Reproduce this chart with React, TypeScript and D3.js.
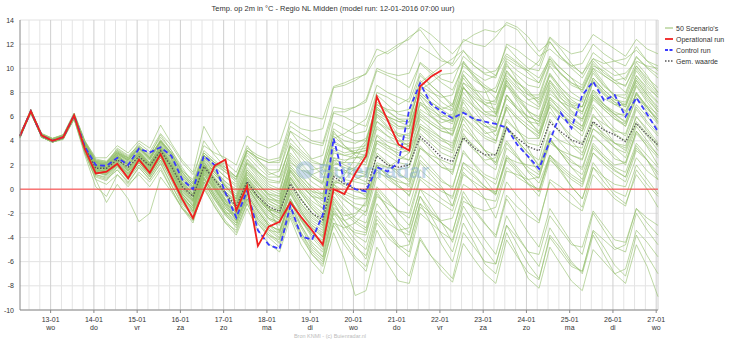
import React from "react";
import * as d3 from "d3";

const W = 732;
const H = 341;

const dayLabels = ["13-01","14-01","15-01","16-01","17-01","18-01","19-01","20-01","21-01","22-01","23-01","24-01","25-01","26-01","27-01"];
const weekdayLabels = ["wo","do","vr","za","zo","ma","di","wo","do","vr","za","zo","ma","di","wo"];
const yTicks = [-10,-8,-6,-4,-2,0,2,4,6,8,10,12,14];
const legendLabels = ["50 Scenario's","Operational run","Control run","Gem. waarde"];

// values every 6 hours, starting 12-01 07:00
const operational = [4.4,6.45,4.45,4.0,4.3,6.1,3.3,1.3,1.45,2.1,0.9,2.45,1.35,2.9,1.0,-0.8,-2.4,-0.1,1.95,2.45,-1.75,0.25,-4.7,-3.1,-2.7,-1.1,-2.3,-3.4,-4.6,0.0,-0.4,1.3,2.75,7.65,5.7,3.7,3.2,8.5,9.3,9.85];
const control = [4.4,6.45,4.45,4.0,4.3,6.1,3.5,2.0,1.93,2.6,2.0,3.35,3.03,3.47,2.75,0.8,0.0,2.75,2.0,-0.3,-2.35,-0.15,-3.4,-4.6,-4.96,-1.38,-3.9,-4.19,-2.12,4.2,0.63,0.0,-0.19,1.82,1.46,2.2,6.6,8.76,7.05,6.41,5.87,6.33,5.81,5.59,5.4,5.09,3.66,2.7,1.68,3.99,6.33,5.04,7.79,8.9,7.36,7.79,6.0,7.57,6.2,4.76];
const meanRun = [4.4,6.4,4.4,4.0,4.3,6.1,3.5,1.73,1.73,2.42,1.82,2.7,1.93,3.19,1.87,0.22,-0.61,1.87,0.77,-0.33,-1.44,0.63,-0.61,-1.44,-1.85,0.44,-0.88,-1.98,-2.54,1.04,0.44,0.0,-0.06,2.75,2.0,1.82,2.0,4.35,3.52,2.6,2.28,4.26,3.39,2.83,2.83,5.09,4.21,3.52,3.17,5.54,4.76,4.07,3.72,5.59,4.9,4.49,3.93,5.45,4.49,3.66];

const scenarios = [
  [4.3,6.5,4.4,4.1, 4.4,6.2,3.4,1.5, 1.6,2.2,1.2,2.6, 1.5,3.0,1.0,-0.5, -1.8,1.5,1.8,2.2, -1.2,0.5,-0.2,-1.5, -3.5,-1.0,-2.5,-3.8, -4.2,0.5,1.2,2.5, 3.8,7.2,6.5,5.8, 5.5,8.8,9.5,10.2, 10.8,11.5,10.2,9.6, 9.8,11.2,10.5,9.8, 9.2,10.8,9.5,8.8, 8.2,10.2,9.8,9.0, 8.5,10.5,9.4,8.0],
  [4.5,6.3,4.3,3.9, 4.2,6.0,3.8,2.1, 1.9,2.8,2.0,3.1, 2.2,3.6,2.5,0.8, -0.2,2.4,0.2,-1.2, -2.6,-0.8,-2.5,-3.4, -4.1,-1.6,-3.6,-5.2, -6.0,-2.8,-3.9,-4.8, -5.5,-2.2,-3.4,-4.6, -5.2,-1.5,-2.2,-2.8, -3.5,-0.6,-1.8,-2.9, -3.8,-0.5,-1.5,-2.2, -2.8,0.8,0.2,-0.5, -1.5,1.8,1.0,0.4, 0.2,2.6,1.5,0.8],
  [4.4,6.4,4.5,4.0, 4.3,6.0,3.7,2.0, 1.8,2.6,2.2,3.0, 2.0,3.3,2.1,0.5, -0.4,2.0,1.2,0.3, -0.8,1.4,0.4,-0.5, -1.2,1.5,0.2,-0.6, -1.3,2.2,1.8,1.5, 1.2,4.5,3.9,3.6, 3.8,6.2,5.4,4.8, 4.5,6.8,5.9,5.2, 5.1,7.5,6.6,6.0, 5.6,7.9,7.2,6.8, 6.4,8.2,7.5,7.0, 6.5,7.8,6.9,6.2],
  [4.3,6.6,4.3,4.0, 4.2,5.9,3.2,1.2, 0.9,1.6,0.5,1.8, 0.8,2.1,0.3,-1.2, -2.3,0.6,-0.8,-2.1, -3.2,-1.2,-2.9,-3.8, -4.5,-2.2,-4.0,-5.4, -6.2,-3.0,-4.6,-5.8, -6.8,-3.4,-5.2,-6.3, -7.2,-4.0,-5.5,-6.8, -7.7,-4.5,-5.8,-7.0, -7.8,-4.2,-5.6,-6.9, -7.5,-3.8,-4.9,-6.2, -6.8,-3.5,-4.8,-6.3, -7.2,-3.8,-5.5,-7.0],
  [4.6,6.5,4.6,4.2, 4.5,6.3,4.0,2.5, 2.3,3.2,2.6,3.5, 2.7,4.0,3.0,1.5, 0.8,4.0,2.8,1.8, 1.0,3.0,2.2,1.2, 1.5,4.8,3.6,2.5, 2.8,6.3,6.0,5.5, 5.2,8.0,7.6,7.0, 7.5,10.5,9.8,9.1, 8.8,11.0,10.2,9.5, 9.2,12.0,11.5,10.8, 10.2,12.5,11.6,10.4, 9.5,11.3,10.6,9.8, 9.0,10.9,10.1,9.5],
  [4.2,6.3,4.4,3.9, 4.1,5.8,3.0,1.0, 0.7,1.9,1.1,2.2, 1.1,2.8,1.2,-0.8, -1.5,1.2,0.0,-1.2, -2.0,0.2,-1.1,-2.2, -2.8,-0.3,-1.8,-3.0, -3.8,-0.2,-0.9,-1.5, -1.9,1.6,0.8,0.2, -0.5,2.4,1.5,0.6, 0.2,3.0,2.1,1.2, 0.8,3.8,2.6,1.5, 0.9,4.1,3.0,2.2, 1.8,4.5,3.6,2.5, 2.2,4.8,3.5,2.0],
  [4.4,6.5,4.5,4.1, 4.4,6.1,3.9,2.3, 2.1,3.4,2.8,3.6, 2.8,4.5,3.2,1.8, 0.5,2.8,1.6,0.2, -0.6,2.1,1.0,0.0, -0.4,3.5,2.2,1.0, 0.5,4.8,3.6,2.8, 2.2,6.0,5.1,4.2, 3.5,7.2,6.0,5.2, 4.8,8.5,7.0,6.1, 5.5,9.0,7.8,6.5, 5.8,8.6,7.5,6.9, 6.2,8.9,7.9,7.2, 6.8,9.2,8.0,7.1],
  [4.5,6.4,4.4,4.0, 4.3,6.0,3.5,1.7, 1.4,2.3,1.5,2.5, 1.6,2.9,1.5,-0.2, -1.0,1.6,0.2,-1.0, -2.4,-0.2,-1.6,-2.8, -3.6,-0.8,-2.6,-4.0, -5.0,-1.5,-2.2,-2.0, -1.2,2.0,1.8,2.4, 3.0,5.2,4.6,4.0, 3.6,5.8,4.5,3.2, 2.0,4.0,2.8,1.4, 0.5,2.8,1.6,0.2, -0.8,1.8,0.6,-0.5, -1.2,1.2,0.0,-1.5],
  [4.4,6.4,4.4,4.0, 4.3,6.1,3.3,1.3, 1.4,2.0,0.9,2.4, 1.4,2.9,1.1,-0.9, -2.5,-0.2,1.8,2.4, -1.9,0.2,-0.6,-1.8, -2.6,-1.0,-2.0,-3.0, -3.6,0.4,0.8,1.8, 3.0,6.8,5.8,4.4, 4.2,8.2,8.8,9.5, 9.6,10.5,9.2,8.4, 7.5,9.6,8.8,8.2, 7.0,9.0,7.6,6.5, 5.8,7.8,6.8,6.0, 5.2,7.5,6.8,5.5],
  [4.3,6.3,4.3,3.9, 4.2,6.0,3.6,2.0, 1.8,2.7,2.1,3.0, 2.0,3.4,2.0,0.2, -0.9,1.8,0.6,-0.4, -1.6,0.8,-0.3,-1.2, -1.8,0.9,-0.2,-1.2, -2.0,1.6,1.5,1.8, 2.5,5.2,4.4,3.5, 3.0,5.8,5.0,4.2, 3.8,6.5,5.6,4.8, 4.0,7.0,6.0,5.3, 4.6,7.4,6.6,5.8, 5.2,7.6,6.8,6.2, 5.5,7.9,6.6,5.8],
  [4.5,6.6,4.5,4.1, 4.4,6.2,3.6,1.9, 1.7,2.5,1.6,2.6, 1.8,3.1,1.6,-0.3, -1.2,1.5,0.1,-1.4, -2.6,-0.6,-2.0,-3.2, -4.0,-1.4,-3.0,-4.4, -5.2,-2.0,-3.4,-4.6, -5.8,-2.5,-3.6,-4.8, -5.6,-2.0,-2.8,-3.6, -4.2,-1.0,-1.5,-1.8, -1.5,1.5,1.2,0.8, 1.0,3.8,3.2,2.8, 2.5,5.0,4.4,3.8, 3.2,5.6,4.6,3.5],
  [4.4,6.4,4.6,4.2, 4.5,6.2,3.9,2.4, 2.2,3.0,2.4,3.3, 2.4,3.8,2.6,1.0, 0.1,2.6,1.8,1.0, 0.4,2.5,1.5,0.6, 0.5,3.0,2.0,1.2, 1.6,4.6,4.0,3.8, 4.2,7.0,6.4,5.8, 5.8,8.5,7.6,6.8, 6.5,9.2,8.0,7.2, 7.0,9.8,8.6,7.4, 6.8,9.5,8.4,7.6, 7.2,9.6,8.5,7.8, 7.5,9.8,8.6,7.6],
  [4.3,6.4,4.3,4.0, 4.3,6.0,3.4,1.6, 1.5,2.4,1.7,2.8, 1.9,3.2,1.8,0.0, -0.8,1.9,0.5,-0.8, -1.8,0.5,-0.8,-1.8, -2.4,0.0,-1.4,-2.6, -3.2,0.2,-0.4,-0.8, -0.8,2.0,1.0,0.2, -0.2,2.8,1.8,0.8, 0.0,3.2,2.0,0.8, -0.4,2.6,1.6,0.4, -0.6,2.4,1.6,0.8, 0.2,3.0,2.0,1.2, 0.6,3.2,2.4,1.4],
  [4.5,6.5,4.5,4.1, 4.4,6.2,3.8,2.2, 2.0,3.0,2.6,3.8, 3.1,4.6,3.6,2.2, 1.2,3.6,3.0,2.6, 2.0,4.4,3.8,3.4, 3.8,6.5,6.2,6.0, 5.8,8.5,8.8,9.2, 9.5,11.0,11.4,12.0, 12.4,13.4,12.8,12.0, 11.2,12.2,12.8,13.2, 13.0,13.6,13.2,12.0, 11.0,11.6,10.8,10.2, 9.6,10.8,10.4,10.6, 10.8,11.5,10.6,10.2],
  [4.4,6.3,4.4,3.9, 4.2,5.9,3.4,1.5, 1.2,2.1,1.3,2.3, 1.3,2.7,1.1,-0.6, -1.6,1.2,-0.2,-1.6, -2.4,0.0,-1.4,-2.5, -3.0,-0.4,-2.0,-3.2, -3.9,-0.6,-1.8,-2.6, -3.2,0.0,-1.0,-1.8, -2.4,0.8,0.0,-0.8, -1.4,1.8,1.0,0.2, -0.5,2.4,1.4,0.5, -0.2,2.8,1.8,1.0, 0.4,3.0,2.2,1.5, 1.0,3.4,2.4,1.2],
  [4.4,6.5,4.4,4.0, 4.4,6.1,3.6,2.0, 1.9,2.9,2.3,3.1, 2.1,3.6,2.4,0.6, -0.3,2.5,1.4,0.2, -0.8,1.6,0.5,-0.6, -1.0,2.4,1.2,0.0, -0.6,3.2,2.8,2.6, 2.8,6.2,5.2,4.4, 4.6,7.6,6.2,5.2, 4.4,7.2,5.8,4.6, 4.8,7.8,6.6,5.6, 5.4,8.4,7.2,6.2, 5.8,8.2,7.0,6.4, 6.0,8.5,7.2,6.0],
  [4.4,6.4,4.3,3.9, 4.2,5.8,3.0,0.8, 0.4,1.2,0.2,1.4, 0.6,1.8,0.0,-1.6, -2.8,0.2,-1.5,-2.8, -3.8,-1.6,-3.4,-4.5, -5.2,-2.4,-4.6,-6.0, -7.0,-3.6,-5.8,-8.8, -8.4,-4.8,-6.2,-7.6, -7.8,-4.2,-5.5,-6.4, -7.4,-3.6,-4.8,-6.0, -6.2,-3.0,-4.0,-5.2, -5.4,-2.2,-3.4,-4.6, -4.8,-1.8,-3.0,-4.2, -4.4,-1.6,-2.8,-3.8],
  [4.3,6.4,4.5,4.1, 4.3,6.1,3.7,2.1, 2.0,2.8,2.0,2.9, 2.2,3.5,2.3,0.8, -0.5,2.2,1.4,0.6, -0.2,2.2,1.4,0.8, 0.6,3.8,3.0,2.2, 2.0,5.5,5.0,4.6, 4.8,7.8,7.0,6.2, 6.0,9.0,8.2,7.2, 6.6,9.5,8.2,7.0, 6.2,8.8,7.4,6.4, 6.0,8.8,7.8,7.0, 6.8,9.2,8.2,7.4, 7.0,9.0,7.8,6.8],
  [4.5,6.5,4.4,4.0, 4.3,6.0,3.5,1.8, 1.6,2.5,1.6,2.6, 1.7,3.0,1.4,-0.4, -1.4,1.4,0.0,-1.3, -2.2,0.2,-1.0,-2.0, -2.6,0.4,-1.2,-2.2, -3.0,0.6,0.4,0.8, 1.2,4.0,3.6,3.2, 3.6,6.6,6.0,5.5, 5.8,8.4,7.6,7.0, 7.4,10.2,9.4,8.6, 8.4,10.8,10.0,9.2, 8.0,10.0,8.8,7.6, 6.8,9.0,7.8,6.6],
  [4.4,6.3,4.4,4.0, 4.2,6.0,3.4,1.7, 1.5,2.3,1.5,2.5, 1.6,3.0,1.6,-0.1, -1.0,1.7,0.4,-0.9, -1.9,0.6,-0.6,-1.6, -2.2,1.0,-0.4,-1.6, -2.4,1.4,0.6,0.0, -0.6,3.0,2.2,1.4, 0.6,4.2,3.2,2.2, 1.2,4.6,3.4,2.2, 1.6,5.2,4.0,3.0, 2.4,5.8,4.6,3.6, 2.8,5.6,4.4,3.4, 2.6,5.2,4.0,2.8],
  [4.4,6.4,4.4,4.0, 4.3,6.0,3.3,1.4, 1.1,1.9,1.0,2.0, 1.0,2.4,0.8,-1.0, -2.0,0.8,-0.6,-1.8, -2.8,-0.5,-1.8,-3.0, -3.4,-0.8,-2.4,-3.6, -4.6,-1.0,-2.6,-3.8, -4.4,-1.2,-2.4,-3.4, -3.8,-0.6,-1.8,-2.8, -3.6,-0.2,-1.6,-2.8, -4.0,-0.8,-2.2,-3.6, -4.8,-1.6,-3.0,-4.4, -5.4,-2.0,-3.4,-4.8, -5.2,-2.0,-3.4,-4.6],
  [4.4,6.4,4.4,4.0, 4.3,6.1,3.5,1.9, 1.7,2.6,2.0,2.9, 1.9,3.3,2.0,0.3, -0.7,2.0,0.8,-0.2, -1.2,1.0,0.0,-0.9, -1.5,1.4,0.4,-0.6, -1.6,2.0,2.2,3.0, 4.0,7.0,6.6,6.4, 6.6,9.4,8.6,7.8, 6.8,10.6,9.4,8.2, 6.2,9.0,7.6,6.4, 5.2,7.6,6.4,5.4, 4.8,7.0,6.0,5.0, 4.4,6.8,5.6,4.6],
  [4.3,6.4,4.5,4.1, 4.4,6.1,3.8,2.2, 2.0,2.9,2.3,3.2, 2.2,3.7,2.5,0.9, -0.1,2.4,1.4,0.4, -0.4,1.8,0.8,-0.2, -0.6,2.0,1.0,0.2, -0.4,2.6,2.0,1.6, 1.4,4.4,3.6,2.8, 2.4,5.2,4.4,3.6, 3.2,6.0,5.2,4.4, 4.0,6.8,5.8,5.0, 4.4,7.2,6.2,5.4, 4.8,7.4,6.6,5.8, 5.2,7.6,6.4,5.4],
  [4.4,6.5,4.4,4.0, 4.3,6.0,3.4,1.6, 1.4,2.2,1.3,2.4, 1.4,2.8,1.2,-0.6, -1.6,1.0,-0.4,-1.6, -2.2,0.2,-1.2,-2.4, -2.8,0.0,-1.6,-2.8, -3.4,-0.2,-1.4,-2.4, -2.8,0.2,-0.8,-2.0, -3.0,0.0,-1.4,-2.8, -4.4,-1.4,-2.8,-4.2, -5.4,-2.2,-3.8,-5.2, -6.4,-3.2,-4.6,-6.0, -7.0,-3.8,-5.4,-7.0, -7.8,-4.6,-6.4,-8.9],
  [4.5,6.4,4.5,4.1, 4.4,6.2,3.8,2.3, 2.2,3.2,2.6,3.5, 2.6,4.0,2.9,1.4, 0.4,3.0,2.2,1.4, 0.6,2.8,1.8,1.0, 1.0,3.6,2.8,2.0, 1.2,4.0,3.4,3.0, 3.2,6.4,5.8,5.2, 5.2,8.0,7.2,6.6, 7.0,9.8,9.0,8.4, 8.0,10.4,9.0,7.8, 7.2,9.4,8.2,7.0, 6.4,8.8,7.8,7.0, 7.0,9.4,8.4,7.6],
  [4.4,6.3,4.3,3.9, 4.2,5.9,3.3,1.4, 1.2,2.0,1.2,2.2, 1.2,2.6,1.0,-0.8, -1.8,1.0,-0.4,-1.8, -2.6,-0.4,-1.8,-3.0, -3.8,-1.0,-3.0,-4.6, -5.6,-2.0,-2.6,-2.2, -1.0,2.2,1.8,1.6, 1.8,4.6,3.8,3.0, 2.6,5.4,4.2,3.2, 2.8,5.8,4.8,3.8, 3.6,6.4,5.4,4.4, 3.8,6.2,5.0,3.8, 3.4,6.0,4.8,3.6],
  [4.4,6.4,4.4,4.0, 4.3,6.1,3.6,1.9, 1.7,2.6,1.9,2.8, 1.8,3.2,1.8,0.1, -0.9,1.8,0.6,-0.6, -1.6,0.8,-0.4,-1.4, -2.0,0.6,-0.8,-2.0, -2.8,0.8,0.2,-0.2, -0.4,2.8,2.0,1.2, 0.8,3.6,2.6,1.8, 1.4,4.2,3.2,2.4, 2.6,5.6,4.8,4.2, 4.2,7.0,6.2,5.6, 5.0,7.6,6.6,5.8, 5.4,8.0,6.8,5.6],
  [4.3,6.4,4.3,3.9, 4.2,5.9,3.1,1.1, 0.8,1.6,0.6,1.8, 0.8,2.2,0.4,-1.4, -2.6,0.4,-1.2,-2.6, -3.6,-1.2,-2.8,-4.0, -4.8,-2.0,-3.8,-5.4, -6.4,-2.8,-3.2,-2.8, -1.8,1.4,1.0,0.6, 0.4,3.4,2.6,1.8, 1.6,4.4,3.6,2.8, 2.2,5.0,4.0,3.0, 2.0,4.8,3.8,2.8, 2.4,5.0,4.2,3.4, 3.0,5.4,4.4,3.2],
  [4.4,6.4,4.5,4.1, 4.4,6.1,3.8,2.2, 2.1,3.0,2.4,3.3, 2.4,3.9,2.8,1.2, 0.2,2.8,1.9,1.0, 0.2,2.4,1.4,0.4, 0.0,2.8,1.8,1.0, 0.4,3.8,3.4,3.4, 3.6,6.6,6.0,5.6, 5.6,8.6,8.0,7.6, 7.8,10.4,9.6,9.0, 9.4,11.8,10.8,10.0, 9.8,12.2,11.0,10.2, 10.4,12.0,11.2,10.6, 10.2,11.8,10.6,9.8],
  [4.4,6.4,4.4,4.0, 4.3,6.0,3.6,2.0, 1.8,2.7,2.0,2.9, 2.0,3.3,2.0,0.4, -0.6,2.0,0.9,-0.2, -1.0,1.2,0.2,-0.8, -1.2,1.6,0.6,-0.4, -1.0,2.4,2.2,2.2, 2.0,5.0,4.4,4.0, 4.0,7.0,6.4,5.8, 5.4,8.0,6.8,5.6, 5.0,7.8,6.6,5.6, 4.8,7.6,6.8,6.0, 5.2,7.8,7.0,6.2, 5.6,8.0,6.8,5.8],
  [4.5,6.5,4.4,4.0, 4.3,6.0,3.4,1.5, 1.3,2.2,1.4,2.4, 1.5,2.8,1.2,-0.6, -1.8,0.9,-0.6,-2.0, -3.0,-0.8,-2.4,-3.6, -4.4,-1.8,-3.6,-5.0, -5.8,-2.4,-4.2,-5.6, -6.4,-2.8,-4.0,-4.8, -4.6,-1.2,-2.0,-2.6, -2.4,0.4,-0.2,-0.8, -1.0,1.8,1.0,0.4, 0.0,2.8,2.0,1.2, 0.6,3.4,2.6,1.8, 1.4,3.8,2.8,1.8],
  [4.3,6.5,4.5,4.1, 4.4,6.2,3.9,2.4, 2.3,3.3,2.7,3.6, 2.9,4.3,3.2,1.6, 0.6,3.2,2.4,1.6, 0.8,3.2,2.4,1.6, 1.6,4.2,3.2,2.4, 2.0,5.0,4.4,4.0, 4.0,6.8,6.0,5.2, 5.0,7.8,6.8,5.8, 5.6,8.4,7.4,6.4, 6.4,9.2,8.2,7.4, 7.6,10.2,9.0,8.0, 7.4,9.8,8.6,7.8, 7.8,10.0,8.8,7.8],
  [4.4,6.4,4.4,4.0, 4.2,6.0,3.5,1.7, 1.5,2.4,1.6,2.7, 1.7,3.1,1.6,-0.2, -1.1,1.6,0.3,-1.0, -2.0,0.4,-0.8,-1.8, -2.4,0.2,-1.2,-2.4, -3.0,0.0,-0.8,-1.6, -2.2,1.0,0.2,-0.6, -1.4,1.6,0.8,0.0, -0.8,2.2,1.2,0.2, -0.4,2.8,1.8,0.8, -0.2,2.6,1.4,0.2, -0.8,2.2,1.0,-0.2, -0.6,2.0,0.8,-0.4],
  [4.4,6.5,4.5,4.0, 4.4,6.1,3.7,2.1, 1.9,2.9,2.4,3.4, 2.6,4.0,3.0,1.4, 0.2,2.8,2.2,1.8, 1.0,3.4,2.8,2.4, 2.6,5.6,5.0,4.8, 5.0,8.4,8.6,9.0, 9.6,11.6,11.2,11.8, 12.6,13.2,12.0,10.8, 10.2,11.4,10.6,10.0, 9.4,11.0,10.4,9.6, 8.8,10.6,9.6,8.6, 8.2,10.0,9.4,8.8, 8.6,10.2,9.2,8.4],
  [4.4,6.4,4.4,4.0, 4.3,6.1,3.6,1.9, 1.7,2.6,2.0,2.9, 1.9,3.3,2.0,0.4, -0.6,2.0,0.8,-0.4, -1.2,1.0,-0.2,-1.0, -1.4,1.2,0.0,-1.0, -1.6,1.8,1.4,1.2, 1.0,4.0,3.4,3.0, 3.2,6.0,5.4,4.8, 4.6,7.4,6.4,5.4, 4.4,6.6,5.0,3.4, 1.8,4.2,3.0,1.8, 1.2,3.8,2.8,2.0, 2.2,4.8,3.8,2.8],
  [4.3,6.4,4.4,3.9, 4.2,5.9,3.3,1.4, 1.2,2.0,1.1,2.2, 1.2,2.6,1.0,-0.9, -1.9,0.9,-0.6,-2.0, -2.8,-0.4,-1.8,-3.0, -3.4,-0.8,-2.4,-3.6, -4.4,-1.2,-2.6,-3.4, -3.6,-0.4,-1.6,-2.8, -3.6,-0.6,-2.2,-3.8, -5.2,-2.0,-3.6,-5.0, -6.2,-3.0,-4.6,-6.2, -7.4,-4.0,-5.2,-6.4, -6.8,-3.4,-4.2,-5.0, -4.6,-1.6,-2.4,-3.0],
  [4.5,6.5,4.5,4.1, 4.4,6.1,3.8,2.2, 2.1,3.1,2.5,3.4, 2.5,3.9,2.7,1.1, 0.0,2.6,1.6,0.6, 0.0,2.2,1.2,0.2, -0.2,2.6,1.6,0.6, 0.0,3.4,3.0,3.2, 3.4,6.6,6.0,5.6, 5.2,8.0,7.2,6.6, 6.0,8.8,7.8,7.0, 6.6,9.4,8.4,7.8, 7.8,10.4,9.6,8.8, 8.4,10.4,9.4,8.8, 8.0,10.2,9.0,8.0],
  [4.4,6.4,4.3,3.9, 4.2,5.9,3.2,1.2, 1.0,1.8,0.8,2.0, 1.0,2.4,0.7,-1.1, -2.2,0.6,-0.9,-2.2, -3.0,-0.8,-2.2,-3.4, -3.6,-1.0,-2.6,-3.8, -4.8,-1.6,-3.0,-4.2, -5.0,-1.8,-2.8,-3.4, -3.2,0.0,-0.6,-1.2, -1.8,1.2,0.6,0.0, -0.2,2.6,2.2,2.0, 1.8,4.6,4.0,3.6, 3.4,6.0,5.4,4.8, 4.6,7.0,6.0,5.0],
  [4.4,6.4,4.4,4.0, 4.3,6.0,3.5,1.8, 1.6,2.5,1.8,2.8, 1.8,3.2,1.8,0.2, -0.8,1.9,0.7,-0.5, -1.4,0.9,-0.2,-1.2, -1.6,1.0,-0.2,-1.4, -2.2,1.2,0.8,0.6, 0.4,3.4,2.8,2.2, 2.0,5.0,4.2,3.4, 3.0,6.0,5.0,4.2, 3.8,6.8,5.8,5.0, 4.2,7.0,6.0,5.2, 4.4,6.8,5.6,4.6, 4.0,6.6,5.4,4.4],
  [4.4,6.5,4.4,4.0, 4.3,6.1,3.6,2.0, 1.8,2.8,2.2,3.1, 2.1,3.5,2.2,0.6, -0.4,2.2,1.2,0.2, -0.6,1.6,0.6,-0.4, -0.8,1.8,0.8,-0.2, -0.8,2.6,2.4,2.6, 2.6,5.6,5.0,4.6, 4.4,7.2,6.6,6.0, 6.2,8.8,8.2,8.0, 8.4,10.8,10.2,9.8, 10.6,12.6,11.8,11.2, 11.4,12.8,12.2,11.6, 11.0,12.4,11.6,11.2],
  [4.4,6.4,4.4,4.0, 4.3,6.0,3.0,0.8, -1.1,0.4,-0.8,-2.7, -2.0,1.0,-0.2,-1.6, -2.6,0.0,-1.4,-2.8, -3.4,-1.0,-2.6,-3.8, -4.2,-1.4,-3.2,-4.8, -5.6,-1.8,-3.0,-3.6, -3.8,-0.6,-1.2,-1.8, -2.0,1.0,0.4,-0.2, -0.6,2.2,1.6,1.0, 0.4,3.4,2.6,1.8, 1.2,4.0,3.2,2.4, 1.6,4.4,3.6,2.8, 2.0,4.6,3.6,2.6],
  [4.3,6.3,4.3,3.9, 4.2,5.8,2.8,0.2, -0.6,1.2,0.4,1.2, 0.2,1.6,0.0,-1.6, -2.4,0.6,-0.8,-2.0, -2.0,0.4,-0.8,-1.8, -1.6,1.6,0.4,-0.6, -0.8,2.4,1.6,1.0, 0.6,3.8,3.2,2.6, 2.4,5.4,4.8,4.2, 3.4,6.6,5.8,5.2, 4.8,7.8,6.8,6.0, 5.6,8.2,7.2,6.4, 5.6,8.0,7.0,6.2, 6.2,8.6,7.4,6.4],
  [4.5,6.6,4.6,4.2, 4.5,6.3,4.0,2.6, 2.6,3.6,3.0,4.0, 3.4,5.3,3.8,2.4, 1.4,5.2,3.6,2.2, 1.4,3.6,2.4,1.4, 1.0,3.6,2.6,1.6, 1.8,4.4,3.6,3.0, 2.8,5.6,4.8,4.0, 3.6,6.4,5.6,5.0, 5.0,7.6,6.8,6.2, 6.0,8.6,7.6,7.0, 6.6,9.0,8.0,7.2, 6.8,9.2,8.2,7.4, 7.2,9.4,8.2,7.2],
  [4.4,6.4,4.5,4.1, 4.4,6.2,3.9,2.3, 2.2,3.1,2.5,3.4, 2.5,4.0,2.8,1.2, 0.2,2.8,2.0,1.4, 0.8,3.2,2.6,2.2, 2.4,5.2,4.6,4.0, 3.8,6.8,6.6,6.8, 7.2,9.8,9.4,9.0, 8.4,10.4,9.6,8.8, 8.2,10.2,9.4,8.6, 8.0,10.6,9.8,9.2, 8.8,11.0,10.0,9.2, 8.6,10.6,9.6,9.0, 9.2,11.0,10.0,9.2],
  [4.4,6.4,4.4,4.0, 4.3,6.0,3.4,1.6, 1.4,2.3,1.5,2.5, 1.5,2.9,1.4,-0.4, -1.4,1.3,-0.1,-1.4, -2.2,0.2,-1.2,-2.4, -2.8,-0.2,-1.8,-3.2, -4.0,-0.8,-2.0,-2.8, -3.4,-0.2,-1.6,-3.0, -4.4,-1.2,-2.8,-4.6, -6.0,-2.8,-4.4,-6.2, -7.0,-3.6,-5.4,-7.4, -8.2,-4.8,-6.2,-7.6, -8.4,-5.0,-6.0,-7.0, -6.6,-3.4,-4.4,-5.6],
  [4.3,6.4,4.4,4.0, 4.2,5.9,3.3,1.5, 1.3,2.1,1.3,2.4, 1.5,2.9,1.4,-0.4, -1.3,1.4,0.1,-1.2, -1.8,0.6,-0.6,-1.6, -2.0,0.8,-0.4,-1.6, -2.6,0.4,-0.6,-1.2, -1.4,1.8,1.2,0.8, 0.2,3.4,2.8,2.4, 2.0,5.0,4.2,3.2, 2.2,5.2,4.0,2.6, 1.4,4.2,3.0,1.8, 0.8,3.6,2.6,1.6, 1.0,3.6,2.4,0.8],
  [4.4,6.4,4.4,4.0, 4.3,6.1,3.7,2.0, 1.8,2.8,2.1,3.0, 2.0,3.4,2.2,0.5, -0.5,2.1,1.0,0.0, -0.8,1.4,0.4,-0.4, -0.6,2.2,1.6,1.2, 0.6,4.2,4.6,5.2, 5.8,8.6,8.0,7.6, 7.2,9.6,8.6,7.8, 7.0,9.4,8.4,7.4, 7.2,9.8,8.8,8.0, 7.4,9.6,8.4,7.4, 6.8,9.0,8.0,7.2, 6.4,8.8,7.6,6.4],
  [4.5,6.5,4.5,4.1, 4.4,6.1,3.5,1.8, 1.6,2.5,1.7,2.7, 1.7,3.1,1.7,0.0, -1.0,1.7,0.4,-0.9, -1.8,0.6,-0.6,-1.6, -2.0,0.6,-0.8,-2.0, -2.8,0.4,-0.2,-0.6, -0.8,2.0,1.2,0.4, -0.6,2.2,1.2,0.2, -1.4,1.4,0.4,-0.8, -2.4,0.6,-0.6,-1.6, -2.6,0.6,-0.4,-1.2, -1.8,1.2,0.2,-0.8, -1.4,1.6,0.4,-0.6],
  [4.4,6.5,4.5,4.1, 4.4,6.2,3.8,2.2, 2.0,3.0,2.4,3.4, 2.6,4.1,3.0,1.4, 0.4,3.0,2.2,1.6, 1.0,3.2,2.6,2.2, 2.2,4.8,4.2,3.8, 3.6,6.4,6.4,6.8, 7.4,10.0,9.6,9.4, 9.6,11.8,11.2,10.6, 10.4,12.4,12.0,11.8, 12.6,13.8,13.4,12.6, 11.4,12.2,11.0,10.0, 9.2,10.8,10.0,9.4, 9.6,10.6,10.2,10.0],
  [4.4,6.4,4.4,4.0, 4.3,6.1,3.6,1.9, 1.8,2.7,2.0,2.9, 2.0,3.4,2.1,0.4, -0.6,2.0,0.9,-0.2, -1.0,1.2,0.2,-0.8, -1.0,1.8,0.8,-0.2, -0.4,3.0,2.8,3.0, 3.2,6.2,5.6,5.0, 5.0,7.8,7.0,6.2, 5.6,8.4,7.4,6.4, 6.0,8.6,7.2,5.8, 4.6,6.8,5.4,4.0, 3.0,5.4,4.6,3.8, 3.6,6.0,5.0,3.8]
];

const margin = { left: 20, right: 658, top: 20, bottom: 310 };
const totalHours = 354;
const FONT = "'Liberation Sans', Arial, sans-serif";

export default function App() {
  const x = d3.scaleLinear().domain([0, totalHours]).range([margin.left, margin.right]);
  const y = d3.scaleLinear().domain([-10, 14]).range([margin.bottom, margin.top]);
  const line = d3.line<number>().x((_, i) => x(i * 6)).y((v) => y(v));

  const gridHours: number[] = [];
  for (let h = 5; h <= totalHours; h += 6) gridHours.push(h);
  const dayHour = (d: number) => 17 + 24 * d;
  const isDay = (h: number) => (h - 17) % 24 === 0 && h >= 17;

  const legendY = [28, 39, 50, 61];

  return (
    <svg width={W} height={H} style={{ position: "absolute", left: 0, top: 0, background: "#fff" }} fontFamily={FONT}>
      <rect width={W} height={H} fill="#fff" />
      <text x={333} y={11} fontSize={7.5} textAnchor="middle" fill="#333">
        Temp. op 2m in °C - Regio NL Midden (model run: 12-01-2016 07:00 uur)
      </text>
      {/* grid */}
      {yTicks.map((t) => (
        <line key={"hy" + t} x1={margin.left} x2={margin.right} y1={y(t)} y2={y(t)} stroke="#e2e2e2" strokeWidth={1} />
      ))}
      {gridHours.map((h) => (
        <line key={"vx" + h} x1={x(h)} x2={x(h)} y1={margin.top} y2={margin.bottom} stroke={isDay(h) ? "#cfcfcf" : "#e4e4e4"} strokeWidth={1} />
      ))}
      <line x1={margin.right} x2={margin.right} y1={margin.top} y2={margin.bottom} stroke="#d0d0d0" />
      {/* scenarios */}
      <g fill="none" stroke="#93be6b" strokeOpacity={0.6} strokeWidth={1}>
        {scenarios.map((s, k) => (
          <path key={"s" + k} d={line(s) || ""} />
        ))}
      </g>
      <line x1={margin.left} x2={margin.right} y1={y(0)} y2={y(0)} stroke="#ff3b3b" strokeWidth={1} />
      {/* watermark */}
      <g opacity={0.45}>
        <circle cx={305} cy={170} r={9} fill="#8fb3d6" />
        <path d="M300 170 a5 5 0 0 1 10 0 z" fill="#fff" opacity={0.8} />
        <text x={318} y={178} fontSize={21} fontWeight="bold" fill="#7fa8d2" fontFamily={FONT}>Buienradar</text>
      </g>
      <path d={line(meanRun) || ""} fill="none" stroke="#555" strokeWidth={1.3} strokeDasharray="1.5,1.5" />
      <path d={line(control) || ""} fill="none" stroke="#3a3aff" strokeWidth={1.8} strokeDasharray="5,3" />
      <path d={line(operational) || ""} fill="none" stroke="#f02020" strokeWidth={1.8} />
      {/* axes */}
      <line x1={margin.left} x2={margin.left} y1={margin.top} y2={margin.bottom} stroke="#888" />
      <line x1={margin.left} x2={margin.right} y1={margin.bottom} y2={margin.bottom} stroke="#888" />
      {yTicks.map((t) => (
        <text key={"yl" + t} x={14} y={y(t) + 2.5} fontSize={7} textAnchor="end" fill="#333">{t}</text>
      ))}
      {dayLabels.map((d, i) => (
        <g key={"xl" + d}>
          <line x1={x(dayHour(i))} x2={x(dayHour(i))} y1={margin.bottom} y2={margin.bottom + 3} stroke="#888" />
          <text x={x(dayHour(i))} y={322} fontSize={7} textAnchor="middle" fill="#333">{d}</text>
          <text x={x(dayHour(i))} y={330} fontSize={7} textAnchor="middle" fill="#333">{weekdayLabels[i]}</text>
        </g>
      ))}
      <text x={330} y={338} fontSize={5.5} textAnchor="middle" fill="#bbb">Bron KNMI - (c) Buienradar.nl</text>
      {/* legend */}
      <g fontSize={7} fill="#333">
        <line x1={665} x2={673} y1={legendY[0]} y2={legendY[0]} stroke="#93be6b" strokeWidth={1} />
        <line x1={665} x2={673} y1={legendY[1]} y2={legendY[1]} stroke="#f02020" strokeWidth={1.8} />
        <line x1={665} x2={673} y1={legendY[2]} y2={legendY[2]} stroke="#3a3aff" strokeWidth={1.8} strokeDasharray="3,1.5" />
        <line x1={665} x2={673} y1={legendY[3]} y2={legendY[3]} stroke="#555" strokeWidth={1.3} strokeDasharray="1.5,1.5" />
        {legendLabels.map((l, i) => (
          <text key={l} x={676} y={legendY[i] + 2.5}>{l}</text>
        ))}
      </g>
    </svg>
  );
}
